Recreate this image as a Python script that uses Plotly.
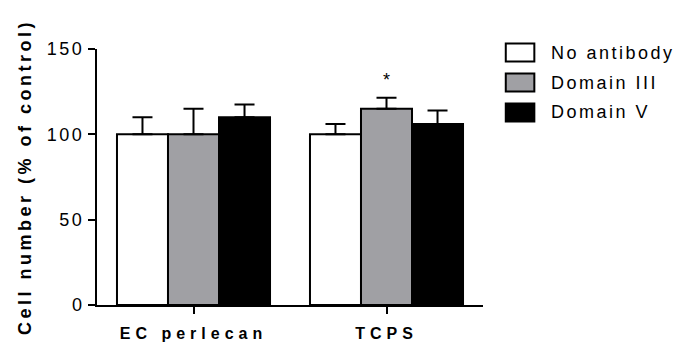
import plotly.graph_objects as go

groups = ["EC perlecan", "TCPS"]
series_names = ["No antibody", "Domain III", "Domain V"]
no_antibody = [100, 100]
no_antibody_err = [10, 6]
domain_iii = [100, 115]
domain_iii_err = [15, 6.5]
domain_v = [110, 106]
domain_v_err = [7.5, 8]
y_ticks = [0, 50, 100, 150]
sig_marker = "*"

colors = ["#ffffff", "#a0a0a4", "#000000"]
values = [no_antibody, domain_iii, domain_v]
errors = [no_antibody_err, domain_iii_err, domain_v_err]

FONT = "Liberation Sans, Arial, sans-serif"

fig = go.Figure()
for name, vals, errs, col in zip(series_names, values, errors, colors):
    fig.add_trace(go.Bar(
        x=groups, y=vals, name=name,
        marker=dict(color=col, line=dict(color="#000000", width=2)),
        error_y=dict(type="data", symmetric=False, array=errs,
                     arrayminus=[0] * len(errs), color="#000000",
                     thickness=2, width=10),
        showlegend=False,
    ))

# significance marker above Domain III in TCPS
fig.add_annotation(x=groups[1], y=domain_iii[1] + domain_iii_err[1],
                   text=sig_marker, showarrow=False, yanchor="middle",
                   yshift=18, font=dict(family=FONT, size=18, color="#000"))

# custom legend
row_y = [0.986, 0.869, 0.752]
for name, col, yc in zip(series_names, colors, row_y):
    fig.add_shape(type="rect", xref="paper", yref="paper",
                  x0=1.059, x1=1.133, y0=yc - 0.035, y1=yc + 0.035,
                  fillcolor=col, line=dict(color="#000000", width=2))
    fig.add_annotation(xref="paper", yref="paper", x=1.172, y=yc,
                       text=name, showarrow=False, xanchor="left",
                       yanchor="middle", align="left",
                       font=dict(family=FONT, size=18, color="#000"))

fig.update_layout(
    width=677, height=343,
    margin=dict(l=97, r=194, t=49, b=38),
    paper_bgcolor="white", plot_bgcolor="white",
    barmode="group", bargap=0.207, bargroupgap=0,
    font=dict(family=FONT, color="#000"),
)
fig.update_xaxes(
    type="category", range=[-0.5, 1.5], automargin=False,
    showline=True, linecolor="#000", linewidth=2,
    ticks="outside", ticklen=7, tickwidth=2, tickcolor="#000",
    tickfont=dict(family=FONT, size=16, color="#000", weight="bold"),
    ticklabelstandoff=6,
    showgrid=False, zeroline=False,
)
fig.update_yaxes(
    range=[0, 150], tickvals=y_ticks, automargin=False,
    showline=True, linecolor="#000", linewidth=2,
    ticks="outside", ticklen=7, tickwidth=2, tickcolor="#000",
    tickfont=dict(family=FONT, size=18, color="#000"),
    showgrid=False, zeroline=False,
    title=dict(text="Cell number (% of control)",
               font=dict(family=FONT, size=18, color="#000", weight="bold"),
               standoff=18),
)

post = """
document.body.style.margin='0';
document.body.style.padding='0';
var gd = document.getElementById('{plot_id}');
gd.querySelectorAll('.xtick text').forEach(function(t){t.style.letterSpacing='5px';});
gd.querySelectorAll('.ytick text').forEach(function(t){t.style.letterSpacing='2.5px';});
gd.querySelectorAll('.g-ytitle text').forEach(function(t){t.style.letterSpacing='3.5px';});
gd.querySelectorAll('.annotation-text').forEach(function(t){
  if (t.textContent.length > 1) { t.style.letterSpacing='2.5px'; }
});
"""

fig.write_html("out.html", post_script=post,
               config={"responsive": False, "displayModeBar": False})
